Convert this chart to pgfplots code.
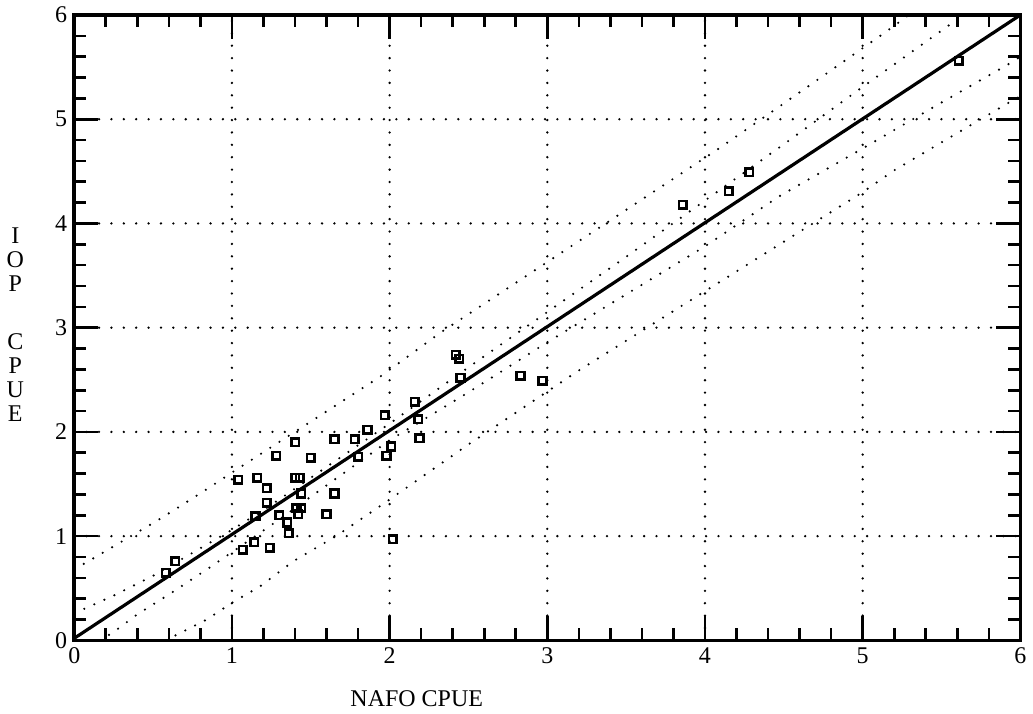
\documentclass[border=0pt]{standalone}
\usepackage{fontspec}
\setmainfont{Liberation Serif}
\usepackage{pgfplots}
\usepackage{pgfplotstable}
\pgfplotsset{compat=1.18}

\pgfplotstableread{
x y
0.58 0.65
0.64 0.76
1.04 1.54
1.07 0.87
1.14 0.94
1.15 1.19
1.16 1.56
1.22 1.46
1.22 1.32
1.24 0.89
1.28 1.77
1.30 1.20
1.35 1.13
1.36 1.03
1.40 1.90
1.40 1.56
1.43 1.56
1.44 1.41
1.41 1.27
1.44 1.27
1.42 1.21
1.50 1.75
1.60 1.21
1.65 1.41
1.65 1.93
1.78 1.93
1.80 1.76
1.86 2.02
1.97 2.16
1.98 1.77
2.01 1.86
2.02 0.97
2.16 2.29
2.18 2.12
2.19 1.94
2.42 2.74
2.44 2.70
2.45 2.52
2.83 2.54
2.97 2.49
3.86 4.18
4.15 4.31
4.28 4.49
5.61 5.56
}\pts

% upper prediction limit
\pgfplotstableread{
x y
0.00 0.68
0.27 0.92
0.56 1.18
0.84 1.45
1.00 1.61
1.47 2.07
1.94 2.53
2.32 2.95
3.23 3.86
4.07 4.70
4.47 5.12
5.14 5.83
5.40 6.12
}\uo

% lower prediction limit
\pgfplotstableread{
x y
0.58 0.00
0.84 0.20
1.00 0.36
1.18 0.52
1.39 0.76
1.66 1.00
1.97 1.32
2.50 1.88
3.19 2.58
4.00 3.35
5.00 4.30
5.20 4.51
5.95 5.18
6.00 5.22
}\lo

% upper confidence limit
\pgfplotstableread{
x y
0.00 0.26
0.25 0.43
0.50 0.62
0.75 0.84
1.00 1.06
1.25 1.30
1.50 1.56
2.00 2.08
2.50 2.62
3.00 3.15
3.50 3.68
4.00 4.22
4.50 4.76
5.00 5.31
5.50 5.85
5.70 6.07
}\ui

% lower confidence limit
\pgfplotstableread{
x y
0.16 0.00
0.24 0.07
0.40 0.25
0.60 0.44
0.84 0.68
1.10 0.95
1.31 1.17
1.52 1.40
2.00 1.92
2.50 2.38
3.00 2.86
3.50 3.32
4.00 3.78
4.47 4.26
5.00 4.72
5.50 5.16
5.95 5.55
6.00 5.60
}\li

\begin{document}
\begin{tikzpicture}
\begin{axis}[
  name=ax,
  scale only axis,
  width=473.5pt, height=313pt,
  xmin=0, xmax=6, ymin=0, ymax=6,
  xtick={0,1,2,3,4,5,6}, ytick={0,1,2,3,4,5,6},
  minor tick num=4,
  tick align=inside,
  major tick length=12pt, minor tick length=6pt,
  every tick/.style={line width=1.3pt, black},
  axis line style={line width=1.8pt},
  grid=major,
  major grid style={line width=1.3pt, dash pattern=on 0pt off 6.2pt, line cap=round, black},
  ticklabel style={font=\fontsize{12}{12}\selectfont},
  /pgf/number format/assume math mode=true,
  xlabel={NAFO CPUE},
  xlabel style={at={(axis description cs:0.362,-0.094)}, anchor=center, font=\fontsize{12}{12}\selectfont},
  ylabel={\fontsize{12}{12}\selectfont\begin{tabular}{@{}c@{}}I\\O\\P\\[17.5pt]C\\P\\U\\E\end{tabular}},
  ylabel style={rotate=-90, at={(axis description cs:-0.0623,0.5)}, anchor=center},
]
\addplot[black, line width=1.6pt] coordinates {(0,0.02) (6,6)};
\addplot[black, line width=1.2pt, dash pattern=on 0pt off 5.5pt, line cap=round] table {\uo};
\addplot[black, line width=1.2pt, dash pattern=on 0pt off 5.5pt, line cap=round] table {\lo};
\addplot[black, line width=1.2pt, dash pattern=on 0pt off 5.5pt, line cap=round] table {\ui};
\addplot[black, line width=1.2pt, dash pattern=on 0pt off 5.5pt, line cap=round] table {\li};
\addplot[only marks, mark=square, mark size=1.9pt, mark options={line width=1.3pt, black}] table {\pts};
\end{axis}
\path ([xshift=-37pt,yshift=-36.5pt]ax.south west) rectangle ([xshift=6pt,yshift=7.5pt]ax.north east);
\end{tikzpicture}
\end{document}
